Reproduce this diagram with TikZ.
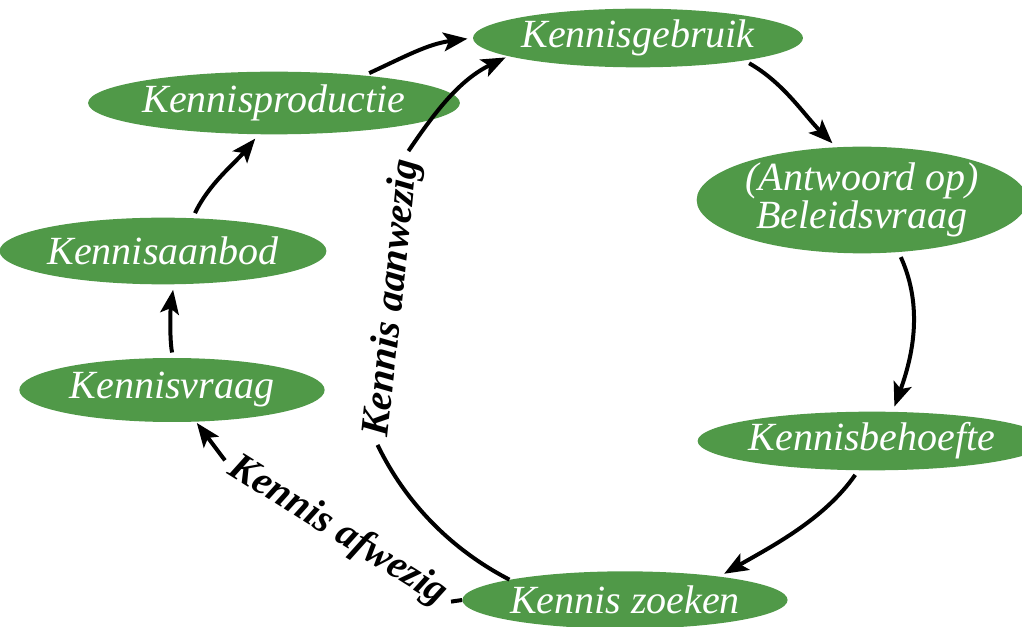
\documentclass[tikz,border=0pt]{standalone}
\usepackage{fontspec}
\setmainfont{Liberation Serif}
\usetikzlibrary{shapes.geometric,arrows.meta}
\definecolor{kgroen}{RGB}{80,153,72}
\tikzset{
  blob/.style={ellipse, fill=kgroen, text=white, inner sep=0pt, font=\itshape\fontsize{30}{29}\selectfont},
  pijl/.style={line width=3pt, -{Stealth[length=18pt,width=14pt,inset=4pt]}, shorten <=4pt, shorten >=4pt},
  lijn/.style={line width=3pt},
  bijschrift/.style={font=\bfseries\itshape\fontsize{30}{30}\selectfont, inner sep=6pt}
}
\begin{document}
\begin{tikzpicture}[x=0.75pt,y=0.75pt,yscale=-1,xscale=1]
\useasboundingbox (0,0) rectangle (1022,627);

%Shape: Ellipse
\node [blob, minimum width=220pt, minimum height=44pt] (gebruik) at (638,38) {Kennisgebruik};
%Shape: Ellipse
\node [blob, minimum width=229pt, minimum height=47pt] (productie) at (274,103) {Kennisproductie};
%Shape: Ellipse
\node [blob, minimum width=227pt, minimum height=50pt] (aanbod) at (163,251) {Kennisaanbod};
%Shape: Ellipse
\node [blob, minimum width=229pt, minimum height=48pt] (vraag) at (172,390) {Kennisvraag};
%Shape: Ellipse
\node [blob, minimum width=248pt, minimum height=80pt, align=center] (beleid) at (862,200) {(Antwoord op)\\Beleidsvraag};
%Shape: Ellipse
\node [blob, minimum width=221pt, minimum height=44pt] (behoefte) at (872,441) {Kennisbehoefte};
%Shape: Ellipse
\node [blob, minimum width=224pt, minimum height=43pt] (zoeken) at (625,600) {Kennis zoeken};

% Text Node
\node [bijschrift, rotate=84] (aanwezig) at (393,298) {Kennis aanwezig};
% Text Node
\node [bijschrift, rotate=-32] (afwezig) at (338,531) {Kennis afwezig};

%Curve Lines
\draw [pijl] (productie.17) .. controls +(41,-19) and +(-45,6) .. (gebruik.west);
%Curve Lines
\draw [pijl] (aanbod.48) .. controls +(16,-34) and +(-24,29) .. (productie.244);
%Curve Lines
\draw [pijl] (vraag.88) .. controls +(-4,-20) and +(-3,20) .. (aanbod.-72);
%Curve Lines
\draw [pijl] (gebruik.-12) .. controls +(39,22) and +(-32,-32) .. (beleid.116);
%Curve Lines
\draw [pijl] (beleid.-55) .. controls +(25,55) and +(20,-55) .. (behoefte.55);
%Curve Lines
\draw [pijl] (behoefte.245) .. controls +(-34,49) and +(52,-30) .. (zoeken.14);
%Curve Lines
\draw [lijn] (zoeken.170) .. controls +(-58,-30) and +(28,58) .. (aanwezig.west);
\draw [pijl, shorten <=0pt, shorten >=2pt] (aanwezig.east) .. controls +(29,-43) and +(-47,23) .. (gebruik.188);
%Straight Lines
\draw [lijn] (zoeken.west) -- (afwezig.east);
\draw [pijl, shorten <=0pt, shorten >=1pt] (afwezig.west) -- (vraag.-53);
\end{tikzpicture}
\end{document}
